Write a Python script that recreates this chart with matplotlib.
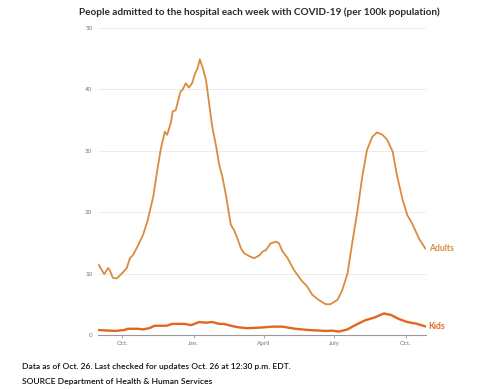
import matplotlib
matplotlib.use('Agg')
import matplotlib.pyplot as plt
import pandas as pd

# weekly hospital admissions per 100k
adult_dates = ['2020-09-01', '2020-09-08', '2020-09-13', '2020-09-15', '2020-09-19', '2020-09-24',
               '2020-09-30', '2020-10-07', '2020-10-11', '2020-10-15', '2020-10-22', '2020-10-28',
               '2020-11-03', '2020-11-10', '2020-11-16', '2020-11-20', '2020-11-25', '2020-11-28',
               '2020-12-03', '2020-12-05', '2020-12-09', '2020-12-15', '2020-12-18', '2020-12-22',
               '2020-12-26', '2020-12-30', '2021-01-03', '2021-01-06', '2021-01-09', '2021-01-13',
               '2021-01-17', '2021-01-21', '2021-01-25', '2021-01-30', '2021-02-03', '2021-02-07',
               '2021-02-12', '2021-02-14', '2021-02-18', '2021-02-22', '2021-02-27', '2021-03-03',
               '2021-03-07', '2021-03-14', '2021-03-20', '2021-03-27', '2021-03-31', '2021-04-04',
               '2021-04-10', '2021-04-17', '2021-04-21', '2021-04-25', '2021-05-02', '2021-05-10',
               '2021-05-19', '2021-05-27', '2021-06-03', '2021-06-11', '2021-06-20', '2021-06-26',
               '2021-07-05', '2021-07-11', '2021-07-18', '2021-07-24', '2021-07-31', '2021-08-06',
               '2021-08-12', '2021-08-19', '2021-08-25', '2021-09-01', '2021-09-07', '2021-09-14',
               '2021-09-20', '2021-09-27', '2021-10-03', '2021-10-09', '2021-10-18', '2021-10-26']
adults = [11.4, 9.9, 10.9, 10.6, 9.3, 9.2,
          9.9, 10.9, 12.5, 13.0, 14.7, 16.3,
          18.7, 22.5, 27.4, 30.4, 33.1, 32.6,
          34.7, 36.4, 36.6, 39.6, 40.0, 41.0,
          40.3, 41.0, 42.6, 43.4, 44.9, 43.4,
          41.5, 37.7, 33.9, 30.7, 27.7, 25.8,
          22.5, 20.9, 17.9, 17.1, 15.5, 14.1,
          13.3, 12.8, 12.5, 13.0, 13.6, 13.8,
          14.9, 15.2, 14.9, 13.7, 12.5, 10.6,
          9.0, 7.9, 6.5, 5.7, 5.0, 5.0,
          5.7, 7.2, 10.0, 14.9, 20.4, 25.8,
          30.1, 32.3, 33.0, 32.6, 31.8, 29.9,
          25.8, 22.0, 19.5, 18.2, 15.7, 14.1]

kid_dates = ['2020-08-31', '2020-09-22', '2020-10-04', '2020-10-08', '2020-10-22', '2020-10-28',
             '2020-11-05', '2020-11-12', '2020-11-27', '2020-12-05', '2020-12-20', '2020-12-29',
             '2021-01-08', '2021-01-17', '2021-01-25', '2021-02-03', '2021-02-09', '2021-02-18',
             '2021-02-27', '2021-03-11', '2021-03-29', '2021-04-12', '2021-04-25', '2021-05-12',
             '2021-05-29', '2021-06-20', '2021-06-28', '2021-07-07', '2021-07-18', '2021-07-28',
             '2021-08-10', '2021-08-21', '2021-09-03', '2021-09-12', '2021-09-22', '2021-10-03',
             '2021-10-14', '2021-10-26']
kids = [0.8, 0.65, 0.8, 1.0, 1.0, 0.9,
        1.1, 1.5, 1.5, 1.8, 1.8, 1.6,
        2.1, 2.0, 2.1, 1.8, 1.8, 1.5,
        1.25, 1.1, 1.2, 1.35, 1.35, 1.0,
        0.8, 0.65, 0.7, 0.55, 0.9, 1.6,
        2.4, 2.8, 3.5, 3.25, 2.6, 2.1,
        1.85, 1.4]

tick_dates = ['2020-10-01', '2021-01-01', '2021-04-01', '2021-07-01', '2021-10-01']
tick_labels = ['Oct.', 'Jan.', 'April', 'July', 'Oct.']
y_ticks = [0, 10, 20, 30, 40, 50]

adult_color = '#d98c3f'
kid_color = '#e2661c'
grey = '#777777'

plt.rcParams['font.family'] = ['Lato', 'DejaVu Sans']

fig = plt.figure(figsize=(5, 3.89), dpi=100)
ax = fig.add_axes([0.196, 0.139, 0.656, 0.789])

ax.plot(pd.to_datetime(adult_dates), adults, color=adult_color, lw=1.3, solid_joinstyle='round')
ax.plot(pd.to_datetime(kid_dates), kids, color=kid_color, lw=1.7, solid_joinstyle='round')

ax.set_xlim(pd.Timestamp('2020-08-31'), pd.Timestamp('2021-10-27'))
ax.set_ylim(0, 50)

ax.set_yticks(y_ticks)
ax.set_yticklabels([str(v) for v in y_ticks], fontsize=4.5, color=grey)
ax.tick_params(axis='y', length=0, pad=4)
ax.grid(axis='y', color='#ececec', lw=0.7)

ax.set_xticks(pd.to_datetime(tick_dates))
ax.set_xticklabels(tick_labels, fontsize=4.5, color=grey)
ax.tick_params(axis='x', length=2.5, width=0.6, color='#999999', pad=2)

for s in ['top', 'right', 'left']:
    ax.spines[s].set_visible(False)
ax.spines['bottom'].set_color('#999999')
ax.spines['bottom'].set_linewidth(0.8)

# end labels
ax.annotate('Adults', xy=(pd.Timestamp(adult_dates[-1]), adults[-1]), xytext=(2.5, 0),
            textcoords='offset points', fontsize=6.2, fontweight='bold', color=adult_color,
            va='center', ha='left', annotation_clip=False)
ax.annotate('Kids', xy=(pd.Timestamp(kid_dates[-1]), kids[-1]), xytext=(2.5, 0),
            textcoords='offset points', fontsize=6.2, fontweight='bold', color=kid_color,
            va='center', ha='left', annotation_clip=False)

fig.text(0.519, 0.969, 'People admitted to the hospital each week with COVID-19 (per 100k population)',
         ha='center', va='center', fontsize=7.2, fontweight='bold', color='#2a2a2a')
fig.text(0.043, 0.059, 'Data as of Oct. 26. Last checked for updates Oct. 26 at 12:30 p.m. EDT.',
         ha='left', va='center', fontsize=6.1, fontweight='semibold', color='#111111')
fig.text(0.043, 0.020, 'SOURCE Department of Health & Human Services',
         ha='left', va='center', fontsize=6.1, fontweight='semibold', color='#111111')

fig.savefig('out.png', dpi=100, facecolor='white')
